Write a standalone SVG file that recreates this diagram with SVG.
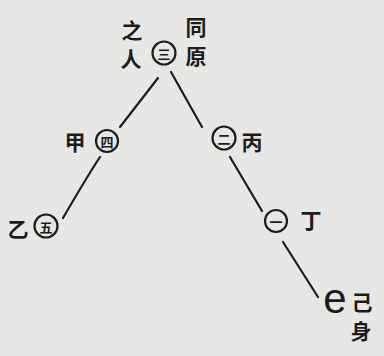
<svg xmlns="http://www.w3.org/2000/svg" width="384" height="356" viewBox="0 0 384 356">
<style>
.t{font-family:"Noto Sans CJK SC","Noto Sans CJK TC",serif;fill:#1c1c1c;text-anchor:middle;dominant-baseline:central;font-size:21px;font-weight:700}
.n{font-family:"Noto Sans CJK SC","Noto Sans CJK TC",serif;fill:#1c1c1c;text-anchor:middle;dominant-baseline:central;font-size:13px;font-weight:700}
.r{fill:none;stroke:#1c1c1c;stroke-width:2.2}
.l{fill:none;stroke:#1c1c1c;stroke-width:2.2;stroke-linecap:round}
</style>
<rect width="384" height="356" fill="#e7e7e5"/>
<g id="connectors">
<line class="l" x1="158" y1="78" x2="120" y2="127"/>
<line class="l" x1="171" y1="72" x2="202" y2="127"/>
<path class="l" d="M100,157 Q88,175 63,218"/>
<line class="l" x1="230" y1="157" x2="262" y2="211"/>
<line class="l" x1="283" y1="242" x2="318" y2="297"/>
</g>
<g id="node-top">
<text class="t" x="132" y="29">之</text>
<text class="t" x="131" y="58">人</text>
<text class="t" x="196" y="26">同</text>
<text class="t" x="196" y="55">原</text>
<circle class="r" cx="164" cy="53" r="11.5"/>
<text class="n" x="164" y="53">三</text>
</g>
<g id="node-jia">
<text class="t" x="75" y="141">甲</text>
<circle class="r" cx="107" cy="141" r="11"/>
<text class="n" x="107" y="141">四</text>
</g>
<g id="node-yi">
<text class="t" x="18" y="228">乙</text>
<circle class="r" cx="46" cy="226" r="11.5"/>
<text class="n" x="46" y="226">五</text>
</g>
<g id="node-bing">
<circle class="r" cx="224" cy="138" r="11.5"/>
<text class="n" x="224" y="138">二</text>
<text class="t" x="252" y="141">丙</text>
</g>
<g id="node-ding">
<circle class="r" cx="276" cy="221" r="11"/>
<text class="n" x="276" y="221">一</text>
<text class="t" x="311" y="219">丁</text>
</g>
<g id="node-ji">
<text x="335" y="313" font-family="Liberation Sans, sans-serif" font-size="42" fill="#1c1c1c" text-anchor="middle">e</text>
<text class="t" x="362" y="301">己</text>
<text class="t" x="361" y="330">身</text>
</g>
</svg>
